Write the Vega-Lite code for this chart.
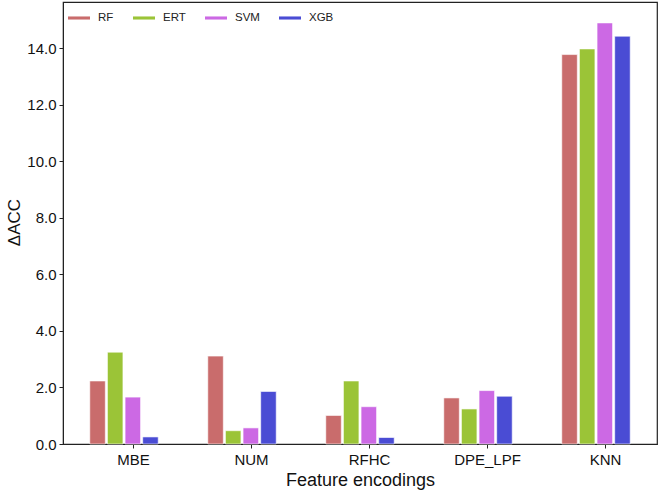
{
  "$schema": "https://vega.github.io/schema/vega-lite/v6.json",
  "autosize": "none",
  "width": 594,
  "height": 442,
  "padding": {"left": 63, "top": 2, "right": 3, "bottom": 46},
  "background": "white",
  "config": {
    "font": "Liberation Sans",
    "view": {"stroke": "#222", "strokeWidth": 1.2},
    "axis": {"grid": false, "domainColor": "#222", "tickColor": "#222", "labelColor": "#111", "titleColor": "#111", "titleFontWeight": "normal", "labelFont": "Liberation Sans", "titleFont": "Liberation Sans"}
  },
  "data": {
    "values": [
      {"enc": "MBE", "model": "RF", "v": 2.23},
      {"enc": "MBE", "model": "ERT", "v": 3.25},
      {"enc": "MBE", "model": "SVM", "v": 1.66},
      {"enc": "MBE", "model": "XGB", "v": 0.25},
      {"enc": "NUM", "model": "RF", "v": 3.11},
      {"enc": "NUM", "model": "ERT", "v": 0.47},
      {"enc": "NUM", "model": "SVM", "v": 0.57},
      {"enc": "NUM", "model": "XGB", "v": 1.86},
      {"enc": "RFHC", "model": "RF", "v": 1.01},
      {"enc": "RFHC", "model": "ERT", "v": 2.23},
      {"enc": "RFHC", "model": "SVM", "v": 1.32},
      {"enc": "RFHC", "model": "XGB", "v": 0.23},
      {"enc": "DPE_LPF", "model": "RF", "v": 1.63},
      {"enc": "DPE_LPF", "model": "ERT", "v": 1.24},
      {"enc": "DPE_LPF", "model": "SVM", "v": 1.89},
      {"enc": "DPE_LPF", "model": "XGB", "v": 1.69},
      {"enc": "KNN", "model": "RF", "v": 13.78},
      {"enc": "KNN", "model": "ERT", "v": 13.98},
      {"enc": "KNN", "model": "SVM", "v": 14.9},
      {"enc": "KNN", "model": "XGB", "v": 14.43}
    ]
  },
  "mark": {"type": "bar", "stroke": "white", "strokeWidth": 1, "strokeOpacity": 0.6},
  "encoding": {
    "x": {
      "field": "enc", "type": "nominal",
      "sort": ["MBE", "NUM", "RFHC", "DPE_LPF", "KNN"],
      "scale": {"paddingInner": 0.42, "paddingOuter": 0.227},
      "axis": {"title": "Feature encodings", "labelAngle": 0, "labelFontSize": 15, "titleFontSize": 18, "labelPadding": 4, "tickSize": 4, "titlePadding": 4, "tickOffset": 9}
    },
    "xOffset": {
      "field": "model", "type": "nominal",
      "sort": ["RF", "ERT", "SVM", "XGB"],
      "scale": {"paddingInner": 0.12}
    },
    "y": {
      "field": "v", "type": "quantitative",
      "scale": {"domain": [0, 15.64], "nice": false},
      "axis": {"title": "ΔACC", "values": [0, 2, 4, 6, 8, 10, 12, 14], "format": ".1f", "labelFontSize": 15, "titleFontSize": 17, "tickSize": 4, "labelPadding": 3, "titlePadding": 3, "titleY": 220}
    },
    "color": {
      "field": "model", "type": "nominal",
      "sort": ["RF", "ERT", "SVM", "XGB"],
      "scale": {"domain": ["RF", "ERT", "SVM", "XGB"], "range": ["#c96c6c", "#9bc437", "#cc69e4", "#4a4cd4"]},
      "legend": {
        "title": null, "orient": "top-left", "direction": "horizontal", "columns": 4,
        "offset": 0, "padding": 5, "columnPadding": 19, "gridAlign": "none",
        "symbolType": "M-1,-0.14H1V0.14H-1Z", "symbolSize": 484, "symbolStrokeWidth": 0,
        "labelFontSize": 11.5, "labelOffset": 8, "labelColor": "#222"
      }
    }
  }
}
